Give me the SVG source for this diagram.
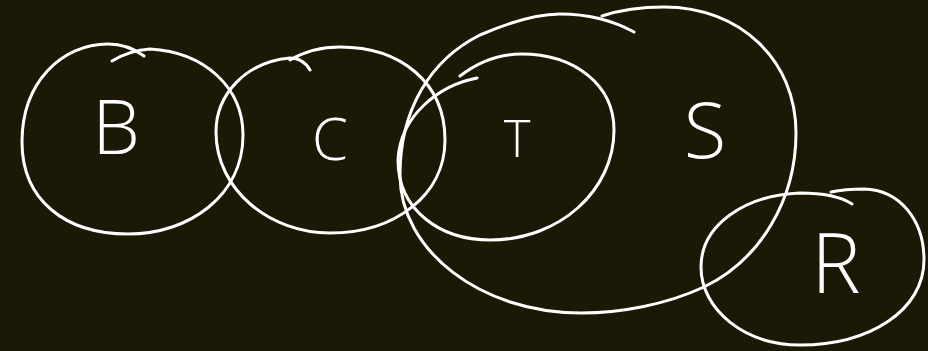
<svg xmlns="http://www.w3.org/2000/svg" width="928" height="351" viewBox="0 0 928 351">
<style>
.c{fill:none;stroke:#ffffff;stroke-width:3;stroke-linecap:round;stroke-linejoin:round}
.t{fill:#ffffff;font-family:"Open Sans","Lato","DejaVu Sans",sans-serif;font-weight:300;text-anchor:middle}
</style>
<rect width="928" height="351" fill="#1b1905"/>
<g id="B">
<path class="c" d="M112,61 C122,55 133,50 150,49 C205,52 243,88 243,135 C243,195 190,234 128,234 C65,234 22,200 22,142 C22,82 62,44 108,44 C125,44 136,50 144,56"/>
<text class="t" x="116" y="154" font-size="76">B</text>
</g>
<g id="C">
<path class="c" d="M310,70 C306,63 300,58 290,58 C245,62 216,95 216,132 C216,190 270,233 330,233 C395,233 445,195 445,140 C445,82 400,47 340,47 C320,47 302,53 290,60"/>
<text class="t" x="330" y="160" font-size="58">C</text>
</g>
<g id="S">
<path class="c" d="M602,16 C620,10 640,7 664,7 C740,7 796,60 796,133 C796,200 760,260 704,287 C665,305 620,313 581,313 C480,313 400,250 400,175 C400,110 430,60 480,35 C510,22 540,14 560,14 C585,14 612,20 634,32"/>
<text class="t" x="705" y="158" font-size="78">S</text>
</g>
<g id="T">
<path class="c" d="M477,78 C440,85 400,115 398,160 C398,210 440,240 490,240 C560,240 614,190 614,130 C614,85 575,54 521,54 C500,54 478,62 460,76"/>
<text class="t" x="517" y="157" font-size="51">T</text>
</g>
<g id="R">
<path class="c" d="M831,192 C845,189 855,189 864,189 C900,190 924,220 924,260 C924,310 870,345 800,345 C745,345 701,310 701,267 C701,225 745,195 800,193 C820,193 840,196 852,204"/>
<text class="t" x="836" y="293" font-size="83">R</text>
</g>
<g id="connectors"></g>
</svg>
